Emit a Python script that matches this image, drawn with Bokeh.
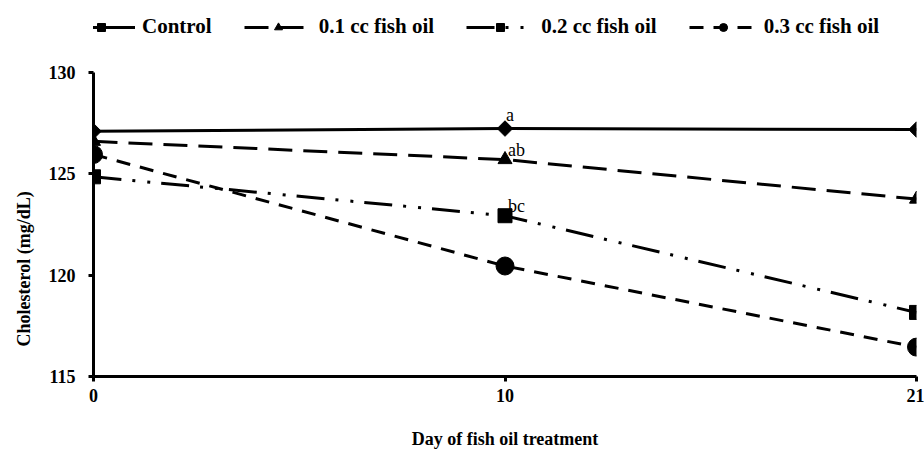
import math
from bokeh.plotting import figure
from bokeh.models import (Range1d, FixedTicker, Legend, LegendItem, ColumnDataSource,
                          LabelSet, Title)
from bokeh.embed import file_html
from bokeh.resources import INLINE

days = ["0", "10", "21"]
series_names = ["Control", "0.1 cc fish oil", "0.2 cc fish oil", "0.3 cc fish oil"]
control = [127.1, 127.23, 127.18]
fish_01 = [126.6, 125.7, 123.75]
fish_02 = [124.85, 122.93, 118.16]
fish_03 = [125.95, 120.45, 116.45]
labels_control = ["", "a", "a"]
labels_01 = ["", "ab", "b"]
labels_02 = ["", "bc", "c"]
labels_03 = ["", "", "c"]
y_ticks = [115, 120, 125, 130]
x_title = "Day of fish oil treatment"
y_title = "Cholesterol (mg/dL)"

FONT = "Liberation Serif"
xs = list(range(len(days)))

p = figure(width=924, height=451, output_backend="svg", toolbar_location=None,
           x_range=Range1d(0, len(days) - 1), y_range=Range1d(115, 133.3),
           min_border_left=93, min_border_right=8, min_border_top=5, min_border_bottom=0)
p.outline_line_color = None
p.xgrid.visible = False
p.ygrid.visible = False
p.background_fill_color = "white"

xax = p.xaxis[0]
yax = p.yaxis[0]
for ax in (xax, yax):
    ax.axis_line_width = 3
    ax.major_tick_line_width = 3
    ax.major_tick_in = 0
    ax.major_tick_out = 5
    ax.minor_tick_line_color = None
    ax.major_label_text_font = FONT
    ax.major_label_text_font_style = "bold"
    ax.major_label_text_font_size = "18px"
    ax.major_label_text_color = "black"

xax.ticker = FixedTicker(ticks=xs)
xax.major_label_overrides = {i: d for i, d in enumerate(days)}
xax.major_label_standoff = 7
xax.axis_label = x_title
xax.axis_label_text_font = FONT
xax.axis_label_text_font_style = "bold"
xax.axis_label_text_font_size = "18px"
xax.axis_label_text_color = "black"
xax.axis_label_standoff = 24
yax.ticker = FixedTicker(ticks=y_ticks)
yax.bounds = (y_ticks[0], y_ticks[-1])
yax.major_label_standoff = 13

p.add_layout(Title(text=y_title, align="left", offset=30, standoff=23,
                   text_font=FONT, text_font_style="bold", text_font_size="18px",
                   text_color="black"), "left")

items = []
specs = [
    (control, "solid", "square", 11, math.pi / 4),
    (fish_01, "24 11", "triangle", 14, 0),
    (fish_02, "28 11 3 12 3 11", "square", 14, 0),
    (fish_03, "14 10", "circle", 18, 0),
]
for name, (vals, dash, marker, size, ang) in zip(series_names, specs):
    src = ColumnDataSource(dict(x=xs, y=vals))
    r1 = p.line("x", "y", source=src, line_color="black", line_width=3, line_dash=dash)
    r2 = p.scatter("x", "y", source=src, marker=marker, size=size, angle=ang,
                   fill_color="black", line_color="black")
    items.append(LegendItem(label=name, renderers=[r1, r2]))

lab_c = ColumnDataSource(dict(x=xs, y=control, t=labels_control))
p.add_layout(LabelSet(x="x", y="y", text="t", source=lab_c, x_offset=1, y_offset=8,
                      text_font=FONT, text_font_size="18px", text_align="left",
                      text_baseline="alphabetic", text_color="black"))
for vals, labs in ((fish_01, labels_01), (fish_02, labels_02), (fish_03, labels_03)):
    s = ColumnDataSource(dict(x=xs, y=vals, t=labs))
    p.add_layout(LabelSet(x="x", y="y", text="t", source=s, x_offset=3, y_offset=4,
                          text_font=FONT, text_font_size="18px", text_align="left",
                          text_baseline="alphabetic", text_color="black"))

legend = Legend(items=items, orientation="horizontal", location=(-26, 337),
                glyph_width=68, glyph_height=20, label_standoff=7, spacing=32,
                padding=0, margin=0, border_line_color=None, background_fill_alpha=0,
                label_text_font=FONT, label_text_font_style="bold",
                label_text_font_size="21px", label_text_color="black")
p.add_layout(legend, "center")

open("out.html", "w").write(file_html(p, INLINE))
